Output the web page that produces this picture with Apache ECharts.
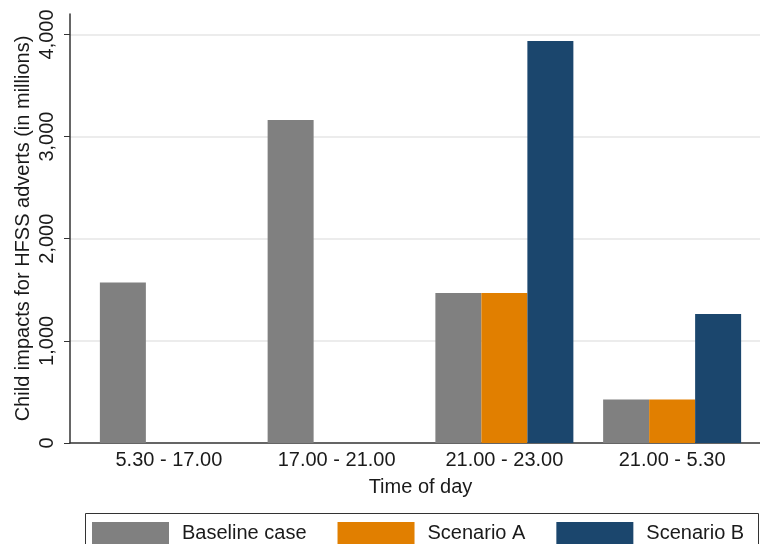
<!DOCTYPE html>
<html>
<head>
<meta charset="utf-8">
<script src="https://cdn.jsdelivr.net/npm/echarts@6/dist/echarts.min.js"></script>
<style>
html,body{margin:0;padding:0;background:#fff;}
#c{width:760px;height:544px;}
</style>
</head>
<body>
<div id="c"></div>
<script>
const categories = ['5.30 - 17.00', '17.00 - 21.00', '21.00 - 23.00', '21.00 - 5.30'];
const baseline = [1571, 3163, 1469, 425];
const scenarioA = [null, null, 1469, 425];
const scenarioB = [null, null, 3935, 1262];
const yTicks = [0, 1000, 2000, 3000, 4000];

const FONT = 'Arial, "Liberation Sans", sans-serif';
const fmt = v => v.toLocaleString('en-US');

const chart = echarts.init(document.getElementById('c'), null, {renderer: 'canvas'});
chart.setOption({
  backgroundColor: '#fff',
  animation: false,
  textStyle: {fontFamily: FONT},
  grid: [
    {left: 85, right: 4, top: 14, bottom: 101},
    {left: 70, right: 0, top: 14, bottom: 101}
  ],
  xAxis: [
    {
      type: 'category', gridIndex: 0, data: categories,
      axisLine: {show: false}, axisTick: {show: false},
      axisLabel: {fontSize: 20, color: '#1a1a1a', margin: 7, fontFamily: FONT},
      name: 'Time of day', nameLocation: 'middle', nameGap: 34, nameMoveOverlap: false,
      nameTextStyle: {fontSize: 20, color: '#1a1a1a', fontFamily: FONT}
    },
    {
      type: 'value', gridIndex: 1, min: 0, max: 1,
      axisLine: {show: true, lineStyle: {color: '#333', width: 1.5}},
      axisTick: {show: false}, axisLabel: {show: false}, splitLine: {show: false}
    }
  ],
  yAxis: [
    {
      type: 'value', gridIndex: 0, min: 0, max: 4200, interval: 1000,
      show: false, splitLine: {show: false}
    },
    {
      type: 'value', gridIndex: 1, min: 0, max: 4200, interval: 1000,
      axisLine: {show: true, lineStyle: {color: '#333', width: 1.5}},
      axisTick: {show: true, length: 6, customValues: yTicks, lineStyle: {color: '#333'}},
      axisLabel: {
        customValues: yTicks,
        rotate: 90, fontSize: 20, color: '#1a1a1a', margin: 13,
        formatter: fmt, fontFamily: FONT
      },
      splitLine: {show: true, showMinLine: false, lineStyle: {color: '#e6e6e6', width: 1.5}},
      name: 'Child impacts for HFSS adverts (in millions)',
      nameLocation: 'middle', nameGap: 37, nameMoveOverlap: false,
      nameTextStyle: {fontSize: 20, color: '#1a1a1a', fontFamily: FONT}
    }
  ],
  legend: {
    left: 92, top: 522, padding: 0, icon: 'rect', itemWidth: 77, itemHeight: 22, itemGap: 31,
    textStyle: {fontSize: 20, color: '#1a1a1a', padding: [0, 0, 0, 8], fontFamily: FONT},
    data: ['Baseline case', 'Scenario A', 'Scenario B']
  },
  graphic: [{
    type: 'rect', left: 83, top: 511,
    shape: {width: 673, height: 40},
    style: {fill: 'none', stroke: '#333', lineWidth: 1}
  }],
  series: [
    {name: 'Baseline case', type: 'bar', xAxisIndex: 0, yAxisIndex: 0, data: baseline,
     barWidth: 46, barGap: '0%', itemStyle: {color: '#808080'}},
    {name: 'Scenario A', type: 'bar', xAxisIndex: 0, yAxisIndex: 0, data: scenarioA,
     barWidth: 46, barGap: '0%', itemStyle: {color: '#e17f00'}},
    {name: 'Scenario B', type: 'bar', xAxisIndex: 0, yAxisIndex: 0, data: scenarioB,
     barWidth: 46, barGap: '0%', itemStyle: {color: '#1b466d'}}
  ]
});
</script>
</body>
</html>
